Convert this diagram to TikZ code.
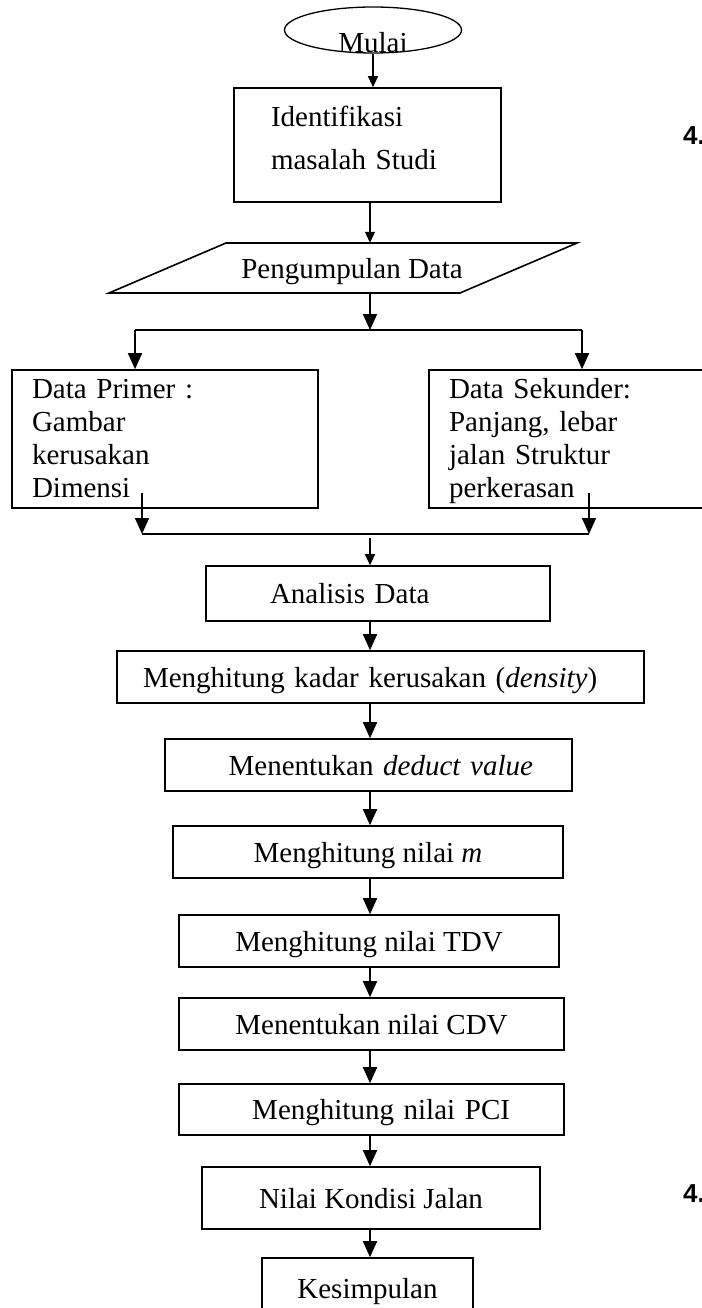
\documentclass[tikz,border=0pt]{standalone}
\usepackage{fontspec}
\setmainfont{Liberation Serif}
\setsansfont{Liberation Sans}
\usetikzlibrary{arrows.meta,shapes.geometric}

\begin{document}
\begin{tikzpicture}[x=1pt, y=-1pt, font=\fontsize{29}{33}\selectfont,
	box/.style={draw, line width=1.6pt, inner sep=0pt, text height=24pt, text depth=4pt},
	arr/.style={-{Triangle[width=14pt,length=16pt]}, line width=1.6pt},
	arrs/.style={-{Triangle[width=10pt,length=11pt]}, line width=1.1pt},
	line/.style={line width=1.6pt}]
			\useasboundingbox (0,0) rectangle (701,1308);
			\coordinate (ax) at (370,0);

			\node (mulai)[ellipse, draw, line width=1.3pt, minimum width=177pt, minimum height=46pt, inner sep=0pt, label={[yshift=-13pt]center:Mulai}] at (373,30) {};
			\node (ident)[box, minimum width=267pt, minimum height=114pt, align=left, text width=193pt, text depth=60pt, font=\fontsize{29}{43}\selectfont] at (367.5,145) {Identifikasi\\masalah Studi};

			\draw[line] (109,293) -- (226,243) -- (577,243) -- (460,293) -- cycle;
			\node (kumpul)[inner xsep=0pt, inner ysep=11pt, text height=24pt, text depth=4pt] at (352,268) {Pengumpulan Data};

			\coordinate (sl) at (135,330);
			\coordinate (sr) at (582,330);
			\node (prim)[box, minimum width=306pt, minimum height=138pt, align=left, text width=266pt, text depth=106pt, font=\fontsize{29}{33.3}\selectfont] at (165,439) {Data Primer :\\Gambar\\kerusakan\\Dimensi};
			\node (sek)[box, minimum width=281pt, minimum height=138pt, align=left, text width=241pt, text depth=106pt, font=\fontsize{29}{33.3}\selectfont] at (569.5,439) {Data Sekunder:\\Panjang, lebar\\jalan Struktur\\perkerasan};

			\coordinate (dl) at (142,493);
			\coordinate (dr) at (589,493);
			\coordinate (jl) at (142,534);
			\coordinate (jr) at (589,534);
			\coordinate (jm) at (370,538);

			\node (ana)[box, minimum width=344pt, minimum height=55pt, align=left, text width=216pt] at (378,593.5) {Analisis Data};
			\node (kadar)[box, minimum width=527pt, minimum height=52pt, align=left, text width=475pt] at (380.5,677) {Menghitung kadar kerusakan (\textit{density})};
			\node (deduct)[box, minimum width=407pt, minimum height=52pt, align=right, text width=329pt] at (368.5,765) {Menentukan \textit{deduct value}};
			\node (m)[box, minimum width=390pt, minimum height=52pt] at (368,852) {Menghitung nilai \textit{m}};
			\node (tdv)[box, minimum width=380pt, minimum height=52pt] at (369,941) {Menghitung nilai TDV};
			\node (cdv)[box, minimum width=385pt, minimum height=52pt] at (371.5,1024) {Menentukan nilai CDV};
			\node (pci)[box, minimum width=385pt, minimum height=51pt, align=right, text width=277pt] at (371.5,1109.5) {Menghitung nilai PCI};
			\node (nilai)[box, minimum width=338pt, minimum height=62pt] at (371,1198) {Nilai Kondisi Jalan};
			\node (kesim)[box, minimum width=211pt, minimum height=60pt] at (367.5,1288) {Kesimpulan};

			\node (no1)[anchor=west, inner sep=0pt, font=\fontsize{26}{26}\selectfont\sffamily\bfseries] at (683,136) {4.};
			\node (no2)[anchor=west, inner sep=0pt, font=\fontsize{26}{26}\selectfont\sffamily\bfseries] at (683,1194) {4.};

			\draw[arrs] (mulai.south) -- (mulai.south |- ident.north);
			\draw[arrs] (ident.south -| ax) -- (kumpul.north -| ax);
			\draw[arr] (kumpul.south -| ax) -- (ax |- sl);
			\draw[line] (sl) -- (sr);
			\draw[arr] (sl) -- (sl |- prim.north);
			\draw[arr] (sr) -- (sr |- sek.north);
			\draw[arr] (dl) -- (jl);
			\draw[arr] (dr) -- (jr);
			\draw[line] (jl) -- (jr);
			\draw[arrs] (jm) -- (jm |- ana.north);
			\draw[arr] (ana.south -| ax) -- (kadar.north -| ax);
			\draw[arr] (kadar.south -| ax) -- (deduct.north -| ax);
			\draw[arr] (deduct.south -| ax) -- (m.north -| ax);
			\draw[arr] (m.south -| ax) -- (tdv.north -| ax);
			\draw[arr] (tdv.south -| ax) -- (cdv.north -| ax);
			\draw[arr] (cdv.south -| ax) -- (pci.north -| ax);
			\draw[arr] (pci.south -| ax) -- (nilai.north -| ax);
			\draw[arr] (nilai.south -| ax) -- (kesim.north -| ax);
		\end{tikzpicture}
\end{document}
